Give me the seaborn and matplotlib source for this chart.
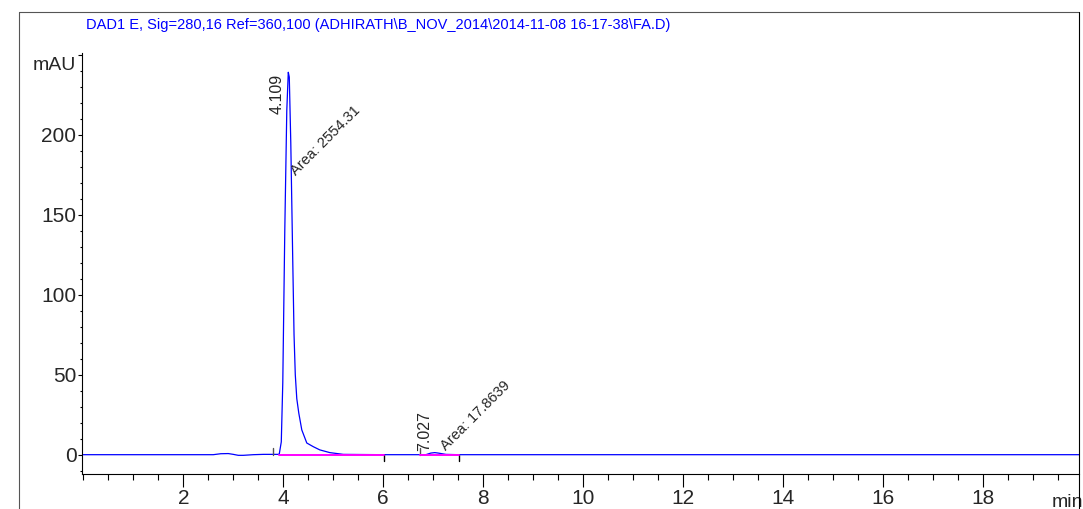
import numpy as np
import pandas as pd
import matplotlib.pyplot as plt
import seaborn as sns
from matplotlib.lines import Line2D
from matplotlib.ticker import MultipleLocator, FixedLocator

# chromatogram trace
time_min = [0.0, 2.6, 2.75, 2.9, 3.0, 3.1, 3.2, 3.4, 3.6, 3.9, 3.92, 3.96, 3.99,
            4.03, 4.07, 4.10, 4.12, 4.15, 4.19, 4.215, 4.24, 4.27, 4.31, 4.37, 4.47,
            4.6, 4.73, 4.93, 5.2, 6.0, 6.85, 6.95, 7.03, 7.1, 7.25, 7.5, 19.95]
signal_mau = [0.0, 0.0, 0.6, 0.7, 0.2, -0.4, -0.4, 0.0, 0.2, 0.2, 0.5, 8.0, 45.0,
              140.0, 215.0, 239.0, 236.0, 195.0, 120.0, 75.0, 50.0, 35.0, 26.0, 15.5, 7.3,
              5.0, 3.0, 1.3, 0.2, 0.0, 0.0, 1.0, 1.3, 1.0, 0.2, 0.0, 0.0]

# integration results
peak_rt_labels = ["4.109", "7.027"]
peak_area_labels = ["Area: 2554.31", "Area: 17.8639"]
base_start = [3.92, 6.74]
base_end = [6.02, 7.52]
start_tick = [3.79, 6.74]

title = "DAD1 E, Sig=280,16 Ref=360,100 (ADHIRATH\\B_NOV_2014\\2014-11-08 16-17-38\\FA.D)"
x_ticks = [2, 4, 6, 8, 10, 12, 14, 16, 18]
y_ticks = [0, 50, 100, 150, 200]

sns.set_style("ticks")
plt.rcParams["font.family"] = ["Liberation Sans", "DejaVu Sans"]

fig = plt.figure(figsize=(10.83, 5.09), dpi=100)
ax = fig.add_axes([0.0757, 0.0682, 0.9963 - 0.0757, 0.8959 - 0.0682])

df = pd.DataFrame({"time": time_min, "signal": signal_mau})
sns.lineplot(data=df, x="time", y="signal", color="#0000ff", lw=0.9, ax=ax)

# baselines and peak marks
for s, e in zip(base_start, base_end):
    ax.plot([s, e], [0, 0], color="#ff00ff", lw=1.4, zorder=3)
for t in start_tick:
    ax.plot([t, t], [0, 4.4], color="#555555", lw=1.0)
for t in base_end:
    ax.plot([t, t], [0, -3.8], color="black", lw=1.0)

# peak labels
ax.text(4.03, 213, peak_rt_labels[0], rotation=90, ha="right", va="bottom", fontsize=11.5)
ax.text(4.10, 173, peak_area_labels[0], rotation=45, ha="left", va="bottom", fontsize=10.5)
ax.text(6.98, 2.5, peak_rt_labels[1], rotation=90, ha="right", va="bottom", fontsize=11.5)
ax.text(7.10, 1.0, peak_area_labels[1], rotation=45, ha="left", va="bottom", fontsize=10.5)

ax.set_xlim(-0.026, 19.914)
ax.set_ylim(-12.25, 251.06)
ax.set_xlabel("")
ax.set_ylabel("")

ax.xaxis.set_major_locator(FixedLocator(x_ticks))
ax.set_xticklabels([str(v) for v in x_ticks])
ax.xaxis.set_minor_locator(MultipleLocator(0.5))
ax.yaxis.set_major_locator(FixedLocator(y_ticks + [250]))
ax.set_yticklabels([str(v) for v in y_ticks] + [""])
ax.yaxis.set_minor_locator(MultipleLocator(10))

ax.tick_params(axis="both", which="both", bottom=True, left=True, top=False, right=False,
               color="black")
ax.tick_params(axis="x", which="major", direction="out", length=9, width=0.8, pad=1.5, labelsize=15)
ax.tick_params(axis="x", which="minor", direction="out", length=4.5, width=0.8)
ax.tick_params(axis="y", which="major", direction="out", length=3, width=0.8, pad=1, labelsize=15)
ax.tick_params(axis="y", which="minor", direction="out", length=1.5, width=0.8)

for side in ["top", "right"]:
    ax.spines[side].set_visible(False)
for side in ["left", "bottom"]:
    ax.spines[side].set_color("black")
    ax.spines[side].set_linewidth(0.8)

ax.text(-0.006, 243, "mAU", transform=ax.get_yaxis_transform(), ha="right", va="center", fontsize=14)
ax.annotate("min", xy=(19.37, 0), xycoords=("data", "axes fraction"),
            xytext=(0, -14), textcoords="offset points", ha="left", va="top", fontsize=14,
            annotation_clip=False)

# outer frame and title
ftop = 1 - 12 / 509
fig.add_artist(Line2D([18.5 / 1083, 18.5 / 1083], [0, ftop], color="#555555", lw=0.8))
fig.add_artist(Line2D([18.5 / 1083, 1079 / 1083], [ftop, ftop], color="#555555", lw=0.8))
fig.add_artist(Line2D([1079 / 1083, 1079 / 1083], [0, ftop], color="black", lw=0.8))
fig.text(86 / 1083, 1 - 25 / 509, title, color="#0000ff", fontsize=10.5, ha="left", va="center")

fig.savefig("out.png", dpi=100)
